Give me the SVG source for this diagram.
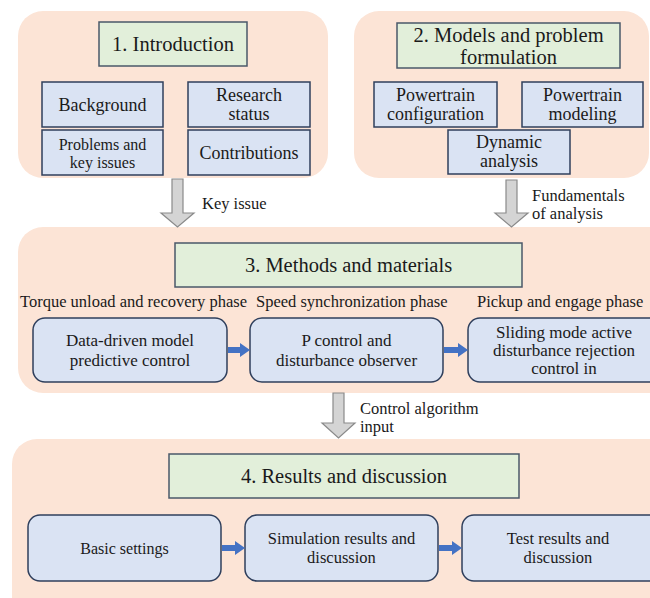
<svg xmlns="http://www.w3.org/2000/svg" width="650" height="598" viewBox="0 0 650 598" font-family="'Liberation Serif', 'DejaVu Serif', serif">
  <style>
    .panel { fill: #fce4d6; stroke: none; }
    .title { fill: #e2efda; stroke: #4a5869; stroke-width: 1.5; }
    .box { fill: #dae3f3; stroke: #2f3f5c; stroke-width: 1.5; }
    text { fill: #1a1a1a; }
    .tt { font-size: 20.5px; text-anchor: middle; }
    .bt { font-size: 18px; text-anchor: middle; }
    .rt { font-size: 17px; text-anchor: middle; }
    .st { font-size: 16px; text-anchor: middle; }
    .r4 { font-size: 16.5px; text-anchor: middle; }
    .ph { font-size: 16.5px; }
    .lb { font-size: 16.5px; }
    .gray { fill: #d4d4d4; stroke: #8a8a8a; stroke-width: 1.2; }
    .blue { fill: #4472c4; }
  </style>
  <rect width="650" height="598" fill="#ffffff"/>

  <!-- Section 1 -->
  <g id="sec1">
    <rect class="panel" x="18" y="11" width="310" height="167" rx="25"/>
    <g id="sec1-title">
      <rect class="title" x="99" y="22" width="148" height="44"/>
      <text class="tt" x="173" y="51">1. Introduction</text>
    </g>
    <g id="background">
      <rect class="box" x="42" y="82" width="121" height="45"/>
      <text class="bt" x="102.5" y="111">Background</text>
    </g>
    <g id="research-status">
      <rect class="box" x="188" y="82" width="122" height="45"/>
      <text class="bt" x="249" y="101">Research</text>
      <text class="bt" x="249" y="120">status</text>
    </g>
    <g id="problems">
      <rect class="box" x="42" y="130" width="121" height="45"/>
      <text class="st" x="102.5" y="149.5">Problems and</text>
      <text class="st" x="102.5" y="167.5">key issues</text>
    </g>
    <g id="contributions">
      <rect class="box" x="188" y="130" width="122" height="45"/>
      <text class="bt" x="249" y="159">Contributions</text>
    </g>
  </g>

  <!-- Section 2 -->
  <g id="sec2">
    <rect class="panel" x="354" y="11" width="295" height="167" rx="25"/>
    <g id="sec2-title">
      <rect class="title" x="397" y="23" width="223" height="45"/>
      <text class="tt" x="508.5" y="42">2. Models and problem</text>
      <text class="tt" x="508.5" y="64">formulation</text>
    </g>
    <g id="pt-config">
      <rect class="box" x="374" y="82" width="123" height="45"/>
      <text class="bt" x="435.5" y="101">Powertrain</text>
      <text class="bt" x="435.5" y="120">configuration</text>
    </g>
    <g id="pt-model">
      <rect class="box" x="522" y="82" width="121" height="45"/>
      <text class="bt" x="582.5" y="101">Powertrain</text>
      <text class="bt" x="582.5" y="120">modeling</text>
    </g>
    <g id="dynamic">
      <rect class="box" x="448" y="130" width="122" height="44"/>
      <text class="bt" x="509" y="148">Dynamic</text>
      <text class="bt" x="509" y="167">analysis</text>
    </g>
  </g>

  <!-- Section 3 -->
  <g id="sec3">
    <rect class="panel" x="18" y="227" width="660" height="166" rx="25"/>
    <g id="sec3-title">
      <rect class="title" x="175" y="243" width="347" height="44"/>
      <text class="tt" x="348.5" y="272">3. Methods and materials</text>
    </g>
    <text class="ph" x="20" y="307">Torque unload and recovery phase</text>
    <text class="ph" x="256" y="307">Speed synchronization phase</text>
    <text class="ph" x="477" y="307">Pickup and engage phase</text>
    <g id="mpc">
      <rect class="box" x="33" y="318" width="194" height="64" rx="12"/>
      <text class="rt" x="130" y="346">Data-driven model</text>
      <text class="rt" x="130" y="366">predictive control</text>
    </g>
    <g id="p-control">
      <rect class="box" x="250" y="318" width="193" height="64" rx="12"/>
      <text class="rt" x="346.5" y="346">P control and</text>
      <text class="rt" x="346.5" y="366">disturbance observer</text>
    </g>
    <g id="smadrc">
      <rect class="box" x="468" y="318" width="200" height="64" rx="12"/>
      <text class="rt" x="564" y="338">Sliding mode active</text>
      <text class="rt" x="564" y="356">disturbance rejection</text>
      <text class="rt" x="564" y="374">control in</text>
    </g>
  </g>

  <!-- Section 4 -->
  <g id="sec4">
    <rect class="panel" x="12" y="439" width="666" height="190" rx="25"/>
    <g id="sec4-title">
      <rect class="title" x="169" y="454" width="350" height="44"/>
      <text class="tt" x="344" y="483">4. Results and discussion</text>
    </g>
    <g id="basic">
      <rect class="box" x="28" y="515" width="193" height="66" rx="12"/>
      <text class="st" x="124.5" y="554">Basic settings</text>
    </g>
    <g id="simulation">
      <rect class="box" x="245" y="515" width="193" height="66" rx="12"/>
      <text class="r4" x="341.5" y="543.5">Simulation results and</text>
      <text class="r4" x="341.5" y="562.5">discussion</text>
    </g>
    <g id="test">
      <rect class="box" x="462" y="515" width="200" height="66" rx="12"/>
      <text class="r4" x="558" y="543.5">Test results and</text>
      <text class="r4" x="558" y="562.5">discussion</text>
    </g>
  </g>

  <!-- Connectors -->
  <g id="connectors">
    <path class="gray" d="M172,179 H183 V213 H194 L177.5,227 L161,213 H172 Z"/>
    <text class="lb" x="202" y="209">Key issue</text>
    <path class="gray" d="M506,180 H517 V213 H528 L511.5,227 L495,213 H506 Z"/>
    <text class="lb" x="532" y="201">Fundamentals</text>
    <text class="lb" x="532" y="219">of analysis</text>
    <path class="gray" d="M333,393 H344 V423 H355 L338.5,438 L322,423 H333 Z"/>
    <text class="lb" x="360" y="414">Control algorithm</text>
    <text class="lb" x="360" y="432">input</text>

    <path class="blue" d="M228,347 H240 V343 L250,350 L240,357 V353 H228 Z"/>
    <path class="blue" d="M444,347 H458 V343 L468,350 L458,357 V353 H444 Z"/>
    <path class="blue" d="M222,545 H235 V541 L245,548 L235,555 V551 H222 Z"/>
    <path class="blue" d="M439,545 H452 V541 L462,548 L452,555 V551 H439 Z"/>
  </g>
</svg>
